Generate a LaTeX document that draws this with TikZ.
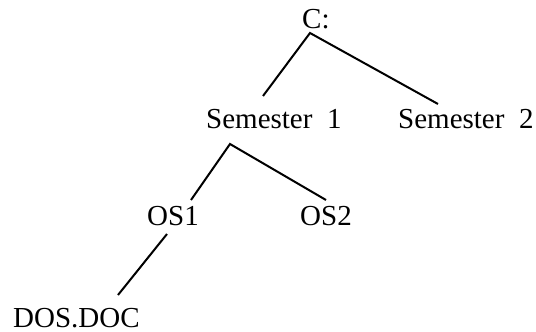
\documentclass[tikz,border=0pt]{standalone}
\usepackage{fontspec}
\setmainfont{Liberation Serif}
\begin{document}
\begin{tikzpicture}[x=1pt,y=-1pt,
  lbl/.style={anchor=base west,inner sep=0pt,text depth=0pt,font=\fontsize{29}{34}\selectfont},
  edge/.style={line width=2pt}]
\useasboundingbox (0,0) rectangle (536,332);
\node[lbl] (c) at (302,28) {C:};
\node[lbl] (s1) at (206,128) {Semester\hspace{0.5em}1};
\node[lbl] (s2) at (398,128) {Semester\hspace{0.5em}2};
\node[lbl] (os1) at (147,225) {OS1};
\node[lbl] (os2) at (300,225) {OS2};
\node[lbl] (dos) at (13,327) {DOS.DOC};
\coordinate (cj) at (310,33);
\coordinate (s1t) at (263,96);
\coordinate (s2t) at (438,104);
\coordinate (s1j) at (230,144);
\coordinate (os1t) at (191,200);
\coordinate (os2t) at (326,200);
\coordinate (os1b) at (167,234);
\coordinate (dost) at (118,295);
\draw[edge] (s1t) -- (cj) -- (s2t);
\draw[edge] (os1t) -- (s1j) -- (os2t);
\draw[edge] (os1b) -- (dost);
\end{tikzpicture}
\end{document}
